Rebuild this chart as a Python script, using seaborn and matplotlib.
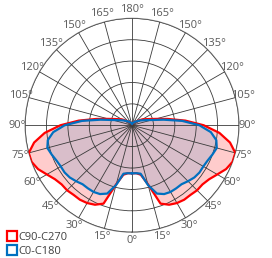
import numpy as np
import pandas as pd
import matplotlib
matplotlib.use("Agg")
import matplotlib.pyplot as plt
from matplotlib.lines import Line2D
import seaborn as sns

# Polar intensity values (fraction of outer ring), symmetric about the 0-180 axis
angles = [0, 5, 10, 15, 20, 25, 30, 35, 40, 45, 50, 55, 60, 65, 70, 75, 80, 85,
          90, 95, 100, 105, 110, 120, 135, 150, 165, 180]
c90_c270 = [0.45, 0.45, 0.47, 0.57, 0.78, 0.82, 0.84, 0.85, 0.85, 0.86, 0.86, 0.88,
            0.92, 0.97, 1.00, 1.00, 0.93, 0.82, 0.67, 0.50, 0.34, 0.23, 0.17, 0.11,
            0.05, 0.03, 0.02, 0.01]
c0_c180 = [0.45, 0.45, 0.46, 0.58, 0.68, 0.71, 0.72, 0.72, 0.72, 0.74, 0.76, 0.77,
           0.77, 0.78, 0.80, 0.82, 0.80, 0.74, 0.63, 0.47, 0.30, 0.19, 0.14, 0.09,
           0.05, 0.03, 0.02, 0.01]
tick_angles = list(range(0, 360, 15))
tick_labels = [f"{min(a, 360 - a)}°" for a in tick_angles]
ring_levels = [0.2, 0.4, 0.6, 0.8, 1.0]
legend_names = ["C90-C270", "C0-C180"]
colors = ["#ff0000", "#0070c0"]


def full_curve(vals):
    # right half (0 -> 180) then mirrored left half (180 -> 360)
    th = angles + [360 - a for a in angles[::-1][1:]]
    r = vals + vals[::-1][1:]
    return pd.DataFrame({"theta": np.deg2rad(th), "r": r})


sns.set_theme(style="white")
plt.rcParams["font.family"] = ["Open Sans", "DejaVu Sans"]

fig = plt.figure(figsize=(2.72, 2.58), dpi=100)
ax = fig.add_axes([0.092, 0.1, 0.787, 0.829], projection="polar")
ax.set_theta_zero_location("S")
ax.set_ylim(0, 1)

red = full_curve(c90_c270)
blue = full_curve(c0_c180)

ax.fill(red["theta"], red["r"], color="#ff0000", alpha=0.2, lw=0, zorder=2)
ax.fill(blue["theta"], blue["r"], color="#0070c0", alpha=0.15, lw=0, zorder=2)
sns.lineplot(data=red, x="theta", y="r", sort=False, ax=ax, color=colors[0], lw=1.6, zorder=4)
sns.lineplot(data=blue, x="theta", y="r", sort=False, ax=ax, color=colors[1], lw=1.6, zorder=4)

ax.set_xticks(np.deg2rad(tick_angles))
ax.set_xticklabels(tick_labels)
ax.set_yticks(ring_levels)
ax.set_yticklabels([])
ax.set_xlabel("")
ax.set_ylabel("")
ax.tick_params(axis="x", pad=-7, labelsize=8, colors="#595959")
ax.grid(True, color="#3a3a3a", lw=0.6)
ax.set_axisbelow(False)
for gl in ax.get_xgridlines() + ax.get_ygridlines():
    gl.set_zorder(3)
ax.spines["polar"].set_color("#7f7f7f")
ax.spines["polar"].set_linewidth(0.8)

handles = [Line2D([], [], ls="none", marker="s", markersize=6.5, markerfacecolor="white",
                  markeredgecolor=c, markeredgewidth=1.6) for c in colors]
fig.legend(handles, legend_names, loc="lower left", bbox_to_anchor=(-0.01, -0.035),
           frameon=False, fontsize=8, handlelength=0.8, handletextpad=0.2,
           labelspacing=0.25, labelcolor="#404040")

fig.savefig("out.png", dpi=100)
